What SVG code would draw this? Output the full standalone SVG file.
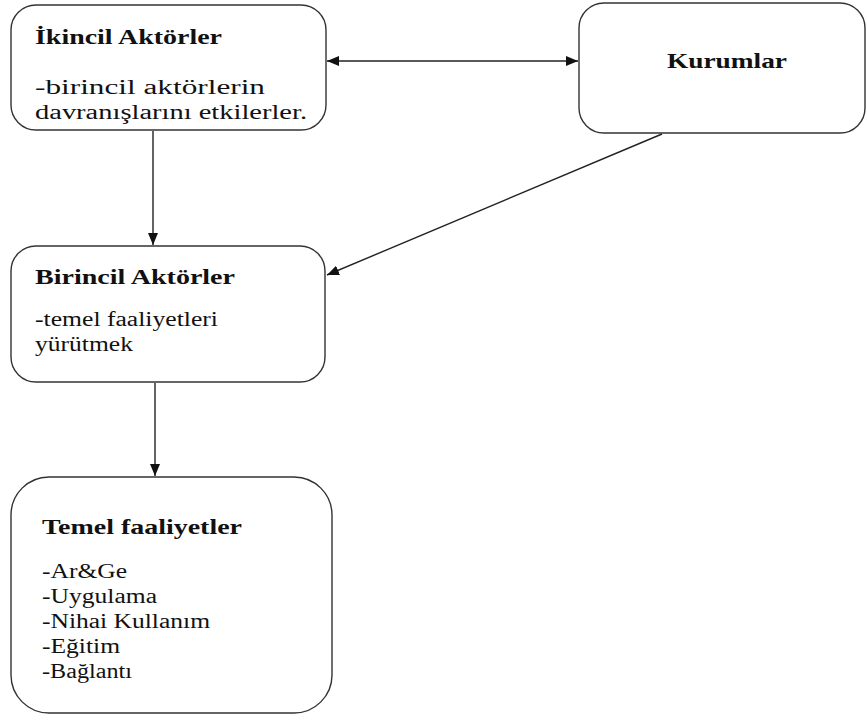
<svg xmlns="http://www.w3.org/2000/svg" width="867" height="722" viewBox="0 0 867 722">
<style>
.box{fill:#fff;stroke:#333;stroke-width:1.4}
.t{font-family:"Liberation Serif","Times New Roman",serif;font-weight:bold;font-size:22px;fill:#111}
.b{font-family:"Liberation Serif","Times New Roman",serif;font-size:20.5px;fill:#111}
.c{fill:none;stroke:#222;stroke-width:1.4}
</style>
<defs>
<marker id="ah" viewBox="0 0 12 10" refX="12" refY="5" markerWidth="12" markerHeight="10" markerUnits="userSpaceOnUse" orient="auto-start-reverse">
<path d="M0,0 L12,5 L0,10 Z" fill="#111"/>
</marker>
</defs>
<rect width="867" height="722" fill="#fff"/>
<g id="connectors">
<line class="c" x1="327" y1="61" x2="578" y2="61" marker-start="url(#ah)" marker-end="url(#ah)"/>
<line class="c" x1="153" y1="131" x2="153" y2="245" marker-end="url(#ah)"/>
<line class="c" x1="155" y1="383" x2="155" y2="476" marker-end="url(#ah)"/>
<line class="c" x1="662" y1="134" x2="327" y2="275" marker-end="url(#ah)"/>
</g>
<g id="ikincil">
<rect class="box" x="11" y="5" width="315" height="125" rx="25"/>
<text class="t" x="35" y="44" textLength="187" lengthAdjust="spacingAndGlyphs">İkincil Aktörler</text>
<text class="b" x="35" y="94" textLength="230" lengthAdjust="spacingAndGlyphs">-birincil aktörlerin</text>
<text class="b" x="35" y="119" textLength="272" lengthAdjust="spacingAndGlyphs">davranışlarını etkilerler.</text>
</g>
<g id="kurumlar">
<rect class="box" x="579" y="3" width="286" height="130" rx="25"/>
<text class="t" x="667" y="68" textLength="120" lengthAdjust="spacingAndGlyphs">Kurumlar</text>
</g>
<g id="birincil">
<rect class="box" x="11" y="246" width="314" height="136" rx="25"/>
<text class="t" x="35" y="284" textLength="200" lengthAdjust="spacingAndGlyphs">Birincil Aktörler</text>
<text class="b" x="35" y="326" textLength="183" lengthAdjust="spacingAndGlyphs">-temel faaliyetleri</text>
<text class="b" x="35" y="351" textLength="98" lengthAdjust="spacingAndGlyphs">yürütmek</text>
</g>
<g id="temel">
<rect class="box" x="11" y="477" width="321" height="236" rx="38"/>
<text class="t" x="42" y="534" textLength="200" lengthAdjust="spacingAndGlyphs">Temel faaliyetler</text>
<text class="b" x="42" y="578" textLength="85" lengthAdjust="spacingAndGlyphs">-Ar&amp;Ge</text>
<text class="b" x="42" y="603" textLength="115" lengthAdjust="spacingAndGlyphs">-Uygulama</text>
<text class="b" x="42" y="628" textLength="168" lengthAdjust="spacingAndGlyphs">-Nihai Kullanım</text>
<text class="b" x="42" y="653" textLength="78" lengthAdjust="spacingAndGlyphs">-Eğitim</text>
<text class="b" x="42" y="678" textLength="90" lengthAdjust="spacingAndGlyphs">-Bağlantı</text>
</g>
</svg>
